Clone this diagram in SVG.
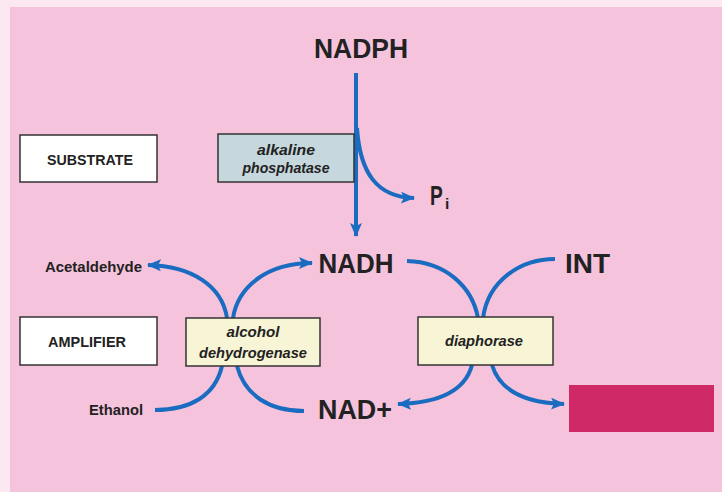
<svg xmlns="http://www.w3.org/2000/svg" width="722" height="492" viewBox="0 0 722 492">
<style>
.big{font-family:"Liberation Sans Narrow","Liberation Sans",Arial,sans-serif;font-weight:bold;font-size:28px;fill:#222}
.lbl{font-family:"Liberation Sans Narrow","Liberation Sans",Arial,sans-serif;font-weight:bold;font-size:15.5px;fill:#222}
.enz{font-family:"Liberation Sans Narrow","Liberation Sans",Arial,sans-serif;font-weight:bold;font-style:italic;font-size:15.5px;fill:#222}
.box{stroke:#333;stroke-width:1.5}
.con{fill:none;stroke:#1a6cc0;stroke-width:4;stroke-linecap:butt}
</style>
<defs>
<marker id="ah" markerUnits="userSpaceOnUse" markerWidth="16" markerHeight="14" refX="13" refY="6" orient="auto">
<path d="M0,0 L14,6 L0,12 L3,6 z" fill="#1a6cc0"/>
</marker>
</defs>
<rect x="0" y="0" width="722" height="492" fill="#fbe8f1"/>
<rect x="10" y="7" width="712" height="485" fill="#f6c3dd"/>

<g id="connectors">
<path class="con" d="M356,73 L356,236" marker-end="url(#ah)"/>
<path class="con" d="M357,128 C360,172 376,197 414,198" marker-end="url(#ah)"/>
<path class="con" d="M227,318 C222,286 192,266 148,265" marker-end="url(#ah)"/>
<path class="con" d="M233,318 C238,286 268,263 312,263" marker-end="url(#ah)"/>
<path class="con" d="M222,366 C215,396 190,410 155,410"/>
<path class="con" d="M237,366 C245,396 270,411 304,411"/>
<path class="con" d="M407,261 C445,262 472,286 478,318"/>
<path class="con" d="M555,259 C520,259 488,281 483,318"/>
<path class="con" d="M472,365 C465,391 440,403 398,404" marker-end="url(#ah)"/>
<path class="con" d="M492,365 C500,391 525,403 564,404" marker-end="url(#ah)"/>
</g>

<g id="nadph"><text class="big" x="361" y="58" text-anchor="middle" textLength="94" lengthAdjust="spacingAndGlyphs">NADPH</text></g>
<g id="pi"><text class="big" transform="translate(430,205) scale(0.68,1)">P</text><text class="lbl" x="445" y="209" font-size="11">i</text></g>
<g id="substrate"><rect class="box" x="20" y="135" width="137" height="47" fill="#ffffff"/><text class="lbl" x="90" y="165" text-anchor="middle" font-size="14.5" textLength="86" lengthAdjust="spacingAndGlyphs">SUBSTRATE</text></g>
<g id="alkaline-phosphatase"><rect class="box" x="218" y="134" width="136" height="48" fill="#c6d7dd"/><text class="enz" x="286" y="155" text-anchor="middle" textLength="58" lengthAdjust="spacingAndGlyphs">alkaline</text><text class="enz" x="286" y="173" text-anchor="middle" textLength="87" lengthAdjust="spacingAndGlyphs">phosphatase</text></g>
<g id="nadh"><text class="big" x="356" y="273" text-anchor="middle" textLength="75" lengthAdjust="spacingAndGlyphs">NADH</text></g>
<g id="int"><text class="big" x="565" y="273" textLength="45" lengthAdjust="spacingAndGlyphs">INT</text></g>
<g id="acetaldehyde"><text class="lbl" x="142" y="272" text-anchor="end" textLength="97" lengthAdjust="spacingAndGlyphs">Acetaldehyde</text></g>
<g id="amplifier"><rect class="box" x="20" y="317" width="137" height="48" fill="#ffffff"/><text class="lbl" x="87" y="347" text-anchor="middle" font-size="14.5" textLength="78" lengthAdjust="spacingAndGlyphs">AMPLIFIER</text></g>
<g id="alcohol-dehydrogenase"><rect class="box" x="186" y="318" width="134" height="48" fill="#f8f5d6"/><text class="enz" x="253" y="337" text-anchor="middle" textLength="53" lengthAdjust="spacingAndGlyphs">alcohol</text><text class="enz" x="253" y="358" text-anchor="middle" textLength="108" lengthAdjust="spacingAndGlyphs">dehydrogenase</text></g>
<g id="diaphorase"><rect class="box" x="418" y="317" width="135" height="48" fill="#f8f5d6"/><text class="enz" x="484" y="346" text-anchor="middle" textLength="78" lengthAdjust="spacingAndGlyphs">diaphorase</text></g>
<g id="ethanol"><text class="lbl" x="143" y="415" text-anchor="end" textLength="54" lengthAdjust="spacingAndGlyphs">Ethanol</text></g>
<g id="nadplus"><text class="big" x="355" y="419" text-anchor="middle" textLength="74" lengthAdjust="spacingAndGlyphs">NAD+</text></g>
<g id="product"><rect x="569" y="385" width="145" height="47" fill="#cf2a67"/></g>
</svg>
